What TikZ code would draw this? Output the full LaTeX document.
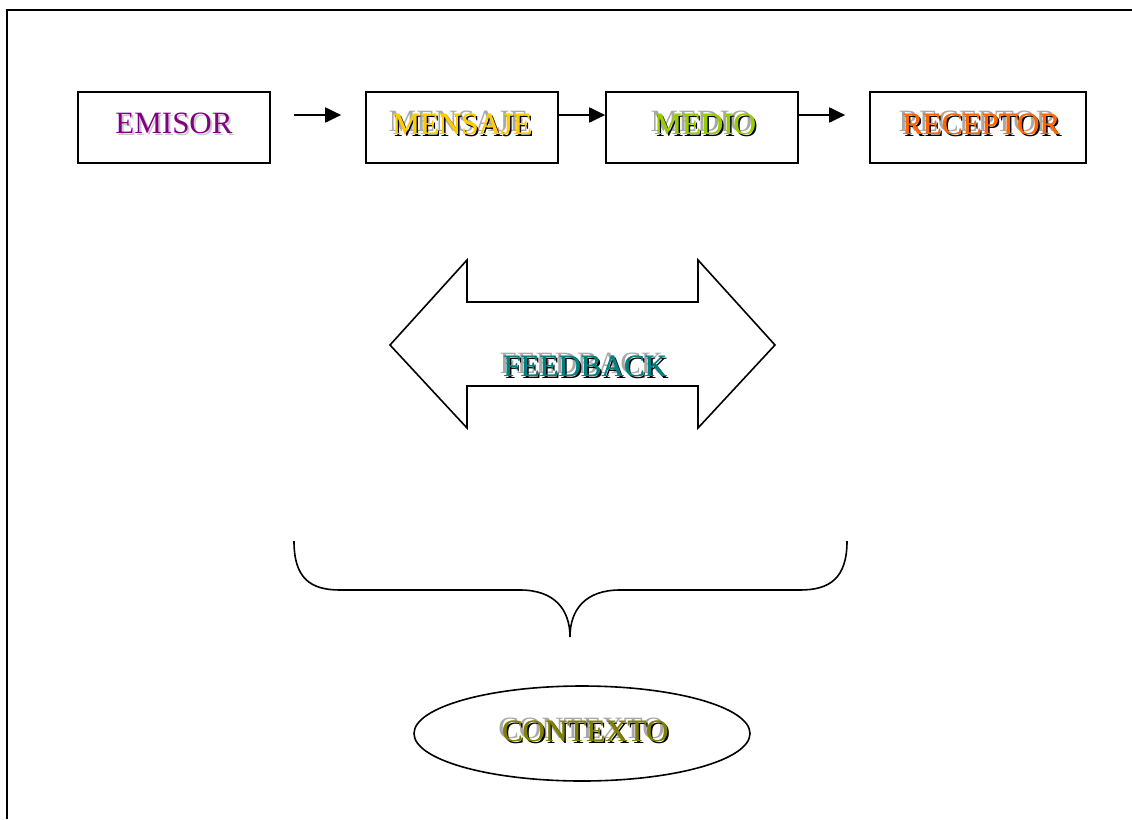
\documentclass[tikz,border=0pt]{standalone}
\usepackage{fontspec}
\setmainfont{Liberation Serif}
\usetikzlibrary{shapes.geometric,arrows.meta}
\definecolor{cemisor}{HTML}{800080}
\definecolor{cmensaje}{HTML}{FFCC00}
\definecolor{cmedio}{HTML}{99CC00}
\definecolor{creceptor}{HTML}{FF6600}
\definecolor{cfeedback}{HTML}{008080}
\definecolor{ccontexto}{HTML}{808000}
\definecolor{shgray}{HTML}{A8A8A8}
\definecolor{shlight}{HTML}{C8C8C8}
\newcommand\shadowword[2]{\makebox[0pt][l]{\hspace{-3.5pt}\raisebox{2.5pt}{\color{shgray}#2}}\makebox[0pt][l]{\hspace{2pt}\raisebox{-2pt}{\color{black}#2}}\makebox[0pt][l]{\hspace{0.5pt}{\color{#1}#2}}{\color{#1}#2}}
\newcommand\softword[2]{\makebox[0pt][l]{\hspace{2pt}\raisebox{-2pt}{\color{shlight}#2}}{\color{#1}#2}}
\tikzset{
  box/.style={draw, line width=1.7pt, minimum width=192pt, minimum height=71pt, inner sep=0pt},
  lbl/.style={anchor=base, inner sep=0pt, font=\fontsize{31}{36}\selectfont},
  conn/.style={line width=2pt, -{Triangle[length=16pt,width=15pt]}},
  outline/.style={line width=1.6pt},
}
\begin{document}
\begin{tikzpicture}[x=1pt,y=-1pt]
\useasboundingbox (0,0) rectangle (1132,819);
\draw[line width=2pt] (7,819) -- (7,10) -- (1132,10);
% boxes
\node[box] (emisor) at (174,127.5) {};
\node[box] (mensaje) at (462,127.5) {};
\node[box] (medio) at (702,127.5) {};
\node[box, minimum width=216pt] (receptor) at (978,127.5) {};
\node[lbl] (temisor) at (174,133) {\softword{cemisor}{EMISOR}};
\node[lbl] (tmensaje) at (462,134) {\shadowword{cmensaje}{MENSAJE}};
\node[lbl] (tmedio) at (705,134) {\shadowword{cmedio}{MEDIO}};
\node[lbl] (treceptor) at (981,134) {\shadowword{creceptor}{RECEPTOR}};
% connectors
\draw[conn, shorten <=23pt, shorten >=24pt] (emisor.east |- 0,115) -- (mensaje.west |- 0,115);
\draw[conn] (mensaje.east |- 0,115) -- (medio.west |- 0,115);
\draw[conn, shorten >=24pt] (medio.east |- 0,115) -- (receptor.west |- 0,115);
% feedback double arrow
\draw[outline, line join=miter] (390,345) -- (467,260) -- (467,302) -- (698,302) -- (698,260) -- (775,345)
  -- (698,428) -- (698,386) -- (467,386) -- (467,428) -- cycle;
\node[lbl] (tfeedback) at (585,376) {\shadowword{cfeedback}{FEEDBACK}};
% brace
\draw[outline] (294,541) .. controls (294,578) and (310,590) .. (340,590)
  -- (520,590) .. controls (555,590) and (570,610) .. (570,637)
  .. controls (570,610) and (585,590) .. (620,590)
  -- (800,590) .. controls (830,590) and (847,578) .. (847,541);
% contexto
\node[draw, outline, ellipse, minimum width=336pt, minimum height=95pt, inner sep=0pt] (contexto) at (582,733.5) {};
\node[lbl] (tcontexto) at (585,741) {\shadowword{ccontexto}{CONTEXTO}};
\end{tikzpicture}
\end{document}
